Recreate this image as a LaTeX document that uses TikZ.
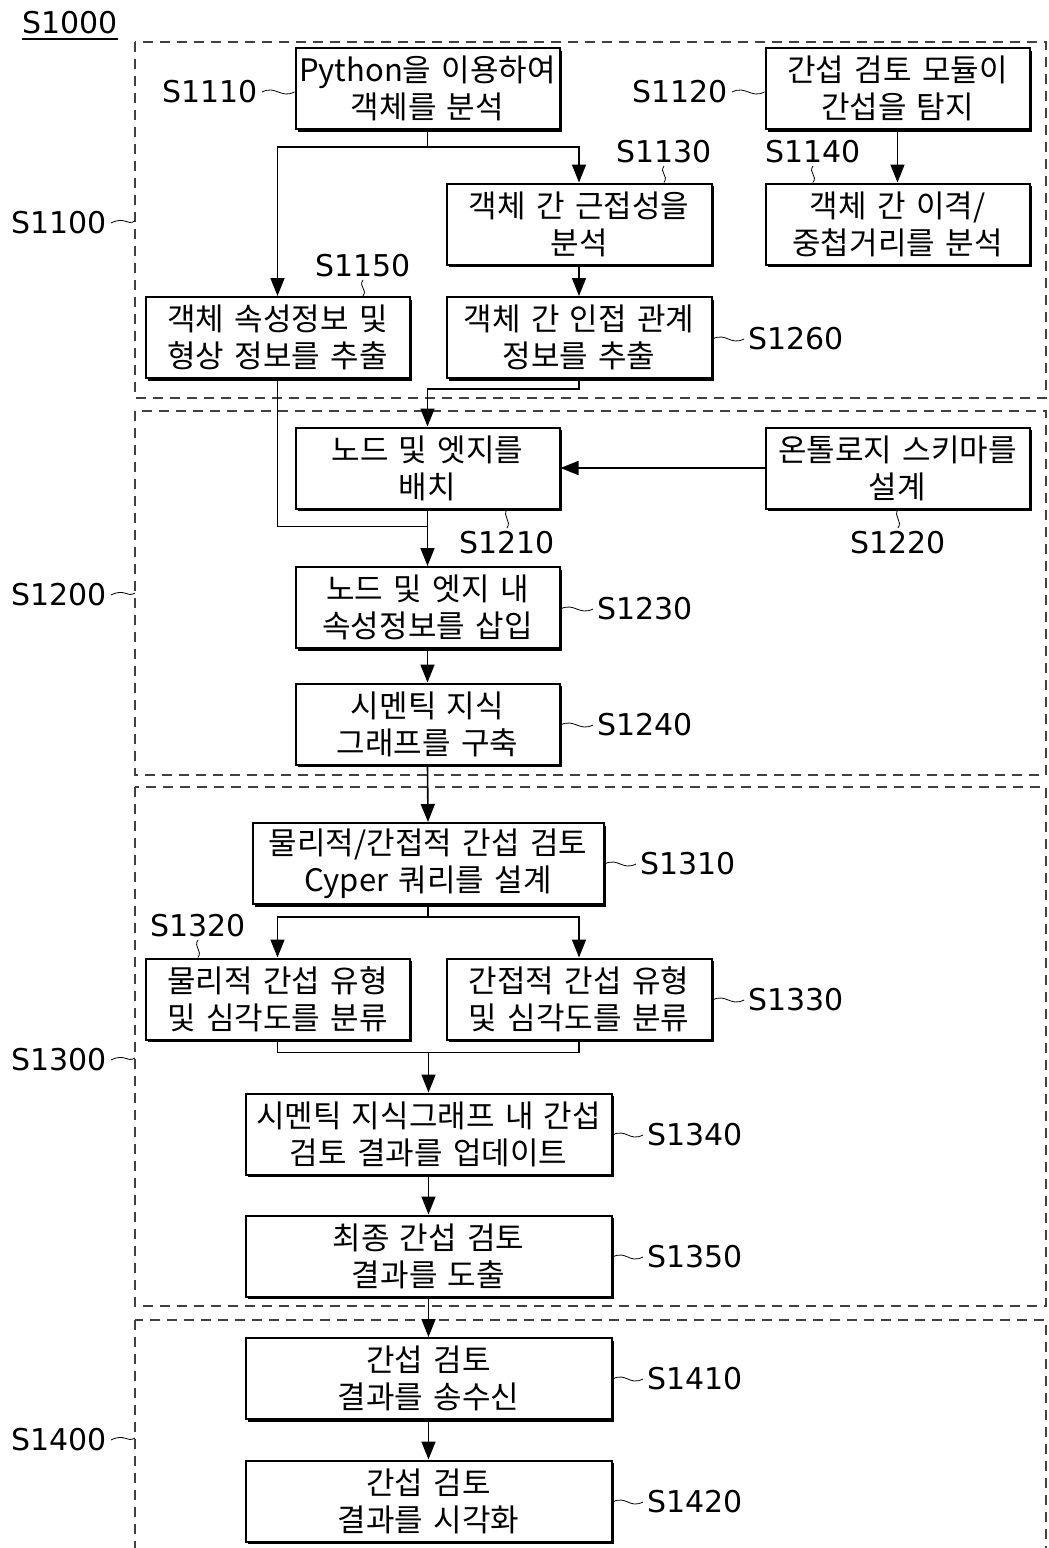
\documentclass[tikz,border=0pt]{standalone}
\usepackage{fontspec}
\setmainfont{DejaVu Sans}
\newfontfamily\krfont[WordSpace=1.5]{Noto Sans CJK KR}
\usetikzlibrary{arrows.meta,shadows}
\begin{document}
\begin{tikzpicture}[x=1pt,y=-1pt,
  box/.style={draw, line width=2pt, fill=white, inner sep=0pt, align=center,
    minimum height=81pt, minimum width=264pt,
    font=\krfont\fontsize{31}{37}\selectfont,
    drop shadow={shadow xshift=2.5pt, shadow yshift=-2.5pt, opacity=1, fill=black}},
  wbox/.style={box, minimum width=265pt},
  lbl/.style={inner sep=0pt, font=\fontsize{30}{36}\selectfont},
  arr/.style={line width=1.6pt, -{Triangle[length=18pt,width=14pt]}},
  ln/.style={line width=1.6pt},
  squig/.style={line width=0.8pt},
  grp/.style={draw=black!75, line width=1.4pt, dash pattern=on 10pt off 7pt}
]
\useasboundingbox (0,0) rectangle (1049,1548);
\fill[white] (0,0) rectangle (1049,1548);
\clip (0,0) rectangle (1049,1548);

% dashed groups
\draw[grp] (135,42) rectangle (1046,398);
\draw[grp] (135,411) rectangle (1046,775);
\draw[grp] (135,787) rectangle (1046,1306);
\draw[grp] (135,1320) rectangle (1046,1620);
\coordinate (g1) at (135,221);
\coordinate (g2) at (135,593);
\coordinate (g3) at (135,1058);
\coordinate (g4) at (135,1438);

% title
\node[lbl, anchor=south west] (l1000) at (22,34) {S1000};
\draw[line width=1.2pt] (22,39) -- (118,39);

% boxes
\node[box] (b1110) at (427.5,88.5) {Python을 이용하여\\객체를 분석};
\node[box] (b1120) at (897.5,88.5) {간섭 검토 모듈이\\간섭을 탐지};
\node[wbox] (b1130) at (579,224) {객체 간 근접성을\\분석};
\node[box] (b1140) at (897.5,224) {객체 간 이격/\\중첩거리를 분석};
\node[box] (b1150) at (277.5,337.5) {객체 속성정보 및\\형상 정보를 추출};
\node[wbox] (b1260) at (579,337.5) {객체 간 인접 관계\\정보를 추출};
\node[box] (b1210) at (427.5,468) {노드 및 엣지를\\배치};
\node[box] (b1220) at (897.5,468) {온톨로지 스키마를\\설계};
\node[box] (b1230) at (427.5,607.5) {노드 및 엣지 내\\속성정보를 삽입};
\node[box] (b1240) at (427.5,724) {시멘틱 지식\\그래프를 구축};
\node[box, minimum width=351pt] (b1310) at (428,863.5) {물리적/간접적 간섭 검토\\Cyper 쿼리를 설계};
\node[box] (b1320) at (277.5,999) {물리적 간섭 유형\\및 심각도를 분류};
\node[wbox] (b1330) at (579,999) {간접적 간섭 유형\\및 심각도를 분류};
\node[box, minimum width=366pt] (b1340) at (428.5,1134) {시멘틱 지식그래프 내 간섭\\검토 결과를 업데이트};
\node[box, minimum width=366pt] (b1350) at (428.5,1256) {최종 간섭 검토\\결과를 도출};
\node[box, minimum width=366pt] (b1410) at (428.5,1378.5) {간섭 검토\\결과를 송수신};
\node[box, minimum width=366pt] (b1420) at (428.5,1501) {간섭 검토\\결과를 시각화};

% connectors
\path (b1110.south) ++(0,17) coordinate (j1);
\draw[ln] (b1110.south) -- (j1);
\draw[arr] (j1) -| (b1150.north);
\draw[arr] (j1) -| (b1130.north);
\draw[arr] (b1120.south) -- (b1140.north);
\draw[arr] (b1130.south) -- (b1260.north);
\path (b1260.south) ++(0,10) coordinate (j2);
\draw[arr] (b1260.south) -- (j2) -| (b1210.north);
\path (b1210.south) ++(0,17) coordinate (j3);
\draw[ln] (b1150.south) |- (j3);
\draw[arr] (b1210.south) -- (b1230.north);
\draw[arr] (b1220.west) -- (b1210.east);
\draw[arr] (b1230.south) -- (b1240.north);
\draw[arr] (b1240.south) -- (b1310.north);
\path (b1310.south) ++(0,12) coordinate (j4);
\draw[ln] (b1310.south) -- (j4);
\draw[arr] (j4) -| (b1320.north);
\draw[arr] (j4) -| (b1330.north);
\path (b1320.south -| b1340.north) ++(0,12) coordinate (j5);
\draw[ln] (b1320.south) |- (j5);
\draw[ln] (b1330.south) |- (j5);
\draw[arr] (j5) -- (b1340.north);
\draw[arr] (b1340.south) -- (b1350.north);
\draw[arr] (b1350.south) -- (b1410.north);
\draw[arr] (b1410.south) -- (b1420.north);

% step labels
\node[lbl, anchor=east] (l1110) at (258,92) {S1110};
\node[lbl, anchor=east] (l1120) at (728,92) {S1120};
\node[lbl, anchor=south] (l1130) at (664,163) {S1130};
\node[lbl, anchor=south] (l1140) at (813,163) {S1140};
\node[lbl, anchor=south] (l1150) at (363,277) {S1150};
\node[lbl, anchor=west] (l1260) at (748,339) {S1260};
\node[lbl, anchor=north] (l1210) at (507,531) {S1210};
\node[lbl, anchor=north] (l1220) at (898,531) {S1220};
\node[lbl, anchor=west] (l1230) at (597,609) {S1230};
\node[lbl, anchor=west] (l1240) at (597,725) {S1240};
\node[lbl, anchor=west] (l1310) at (640,864) {S1310};
\node[lbl, anchor=south] (l1320) at (198,937) {S1320};
\node[lbl, anchor=west] (l1330) at (748,1000) {S1330};
\node[lbl, anchor=west] (l1340) at (647,1135) {S1340};
\node[lbl, anchor=west] (l1350) at (647,1257) {S1350};
\node[lbl, anchor=west] (l1410) at (647,1379) {S1410};
\node[lbl, anchor=west] (l1420) at (647,1502) {S1420};
\node[lbl, anchor=east] (l1100) at (107,223) {S1100};
\node[lbl, anchor=east] (l1200) at (107,595) {S1200};
\node[lbl, anchor=east] (l1300) at (107,1060) {S1300};
\node[lbl, anchor=east] (l1400) at (107,1440) {S1400};

% squiggles (horizontal, label left of box)
\foreach \l/\b in {l1110/b1110, l1120/b1120}
  \draw[squig] ([xshift=4pt]\l.east) .. controls +(14,-7) and +(-14,7) .. (\b.west |- \l.east);
% squiggles (horizontal, label right of box)
\foreach \b/\l in {b1260/l1260, b1230/l1230, b1240/l1240, b1310/l1310, b1330/l1330, b1340/l1340, b1350/l1350, b1410/l1410, b1420/l1420}
  \draw[squig] (\b.east |- \l.west) .. controls +(14,-7) and +(-14,7) .. ([xshift=-4pt]\l.west);
% squiggles (vertical, label above box)
\foreach \l/\b in {l1130/b1130, l1140/b1140, l1150/b1150, l1320/b1320}
  \draw[squig] ([yshift=-3pt]\l.south) .. controls +(-5,7) and +(5,-7) .. (\l.south |- \b.north);
% squiggles (vertical, label below box)
\foreach \b/\l in {b1210/l1210, b1220/l1220}
  \draw[squig] (\l.north |- \b.south) .. controls +(-5,7) and +(5,-7) .. ([yshift=3pt]\l.north);
% group label squiggles
\foreach \l/\g in {l1100/g1, l1200/g2, l1300/g3, l1400/g4}
  \draw[squig] ([xshift=4pt]\l.east) .. controls +(14,-7) and +(-8,5) .. (\g);
\end{tikzpicture}
\end{document}
